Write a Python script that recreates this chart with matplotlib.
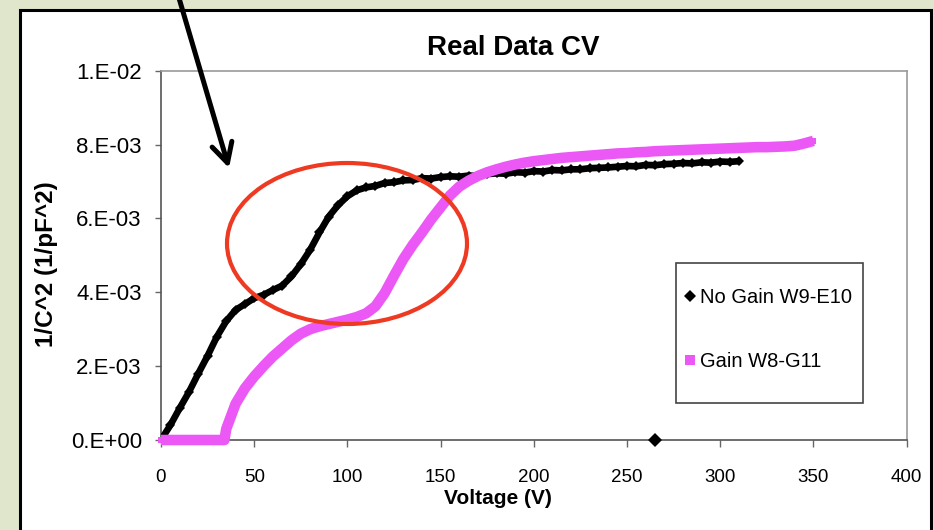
import matplotlib
matplotlib.use("Agg")
import matplotlib.pyplot as plt
from matplotlib.patches import Rectangle, Ellipse, FancyArrowPatch
from matplotlib.lines import Line2D

plt.rcParams['font.family'] = ['Liberation Sans', 'DejaVu Sans']

# ---------------- data ----------------
title = "Real Data CV"
x_label = "Voltage (V)"
y_label = "1/C^2 (1/pF^2)"
series_names = ["No Gain W9-E10", "Gain W8-G11"]

x_ticks = [0, 50, 100, 150, 200, 250, 300, 350, 400]
y_ticks = [0.0, 0.002, 0.004, 0.006, 0.008, 0.010]
y_tick_labels = ["0.E+00", "2.E-03", "4.E-03", "6.E-03", "8.E-03", "1.E-02"]

v_nogain = [0, 5, 10, 15, 20, 25, 30, 35, 40, 45, 50, 55, 60, 65, 70, 75, 80,
            85, 90, 95, 100, 105, 110, 115, 120, 125, 130, 135, 140, 145, 150,
            155, 160, 165, 170, 175, 180, 185, 190, 195, 200, 205, 210, 215,
            220, 225, 230, 235, 240, 245, 250, 255, 260, 265, 270, 275, 280,
            285, 290, 295, 300, 305, 310]
c_nogain_e3 = [0.00, 0.40, 0.86, 1.30, 1.80, 2.28, 2.80, 3.22, 3.52, 3.68,
               3.84, 3.93, 4.06, 4.18, 4.43, 4.76, 5.15, 5.62, 6.05, 6.36,
               6.60, 6.76, 6.84, 6.88, 6.96, 6.98, 7.03, 7.04, 7.09, 7.08,
               7.12, 7.14, 7.13, 7.16, 7.15, 7.20, 7.22, 7.21, 7.25, 7.24,
               7.28, 7.27, 7.31, 7.30, 7.33, 7.33, 7.36, 7.37, 7.38, 7.40,
               7.42, 7.41, 7.45, 7.44, 7.47, 7.48, 7.50, 7.49, 7.52, 7.51,
               7.54, 7.53, 7.55]
# stray point of the No Gain series
v_nogain_stray = [265]
c_nogain_stray_e3 = [0.0]

v_gain = [0, 5, 10, 15, 20, 25, 30, 34, 35, 40, 45, 50, 55, 60, 65, 70, 75,
          80, 85, 90, 95, 100, 105, 110, 115, 120, 125, 130, 135, 140, 145,
          150, 155, 160, 165, 170, 175, 180, 185, 190, 195, 200, 205, 210,
          215, 220, 225, 230, 235, 240, 245, 250, 255, 260, 265, 270, 275,
          280, 285, 290, 295, 300, 305, 310, 315, 320, 325, 330, 335, 340,
          345, 350]
c_gain_e3 = [0.00, 0.00, 0.00, 0.00, 0.00, 0.00, 0.00, 0.00, 0.30, 0.98,
             1.40, 1.72, 2.00, 2.26, 2.48, 2.70, 2.88, 3.00, 3.08, 3.14,
             3.20, 3.26, 3.33, 3.43, 3.62, 3.98, 4.45, 4.90, 5.28, 5.62,
             5.98, 6.30, 6.62, 6.86, 7.02, 7.15, 7.25, 7.33, 7.40, 7.46,
             7.51, 7.55, 7.58, 7.61, 7.64, 7.66, 7.68, 7.70, 7.72, 7.74,
             7.76, 7.77, 7.79, 7.80, 7.82, 7.83, 7.84, 7.85, 7.86, 7.87,
             7.88, 7.89, 7.90, 7.91, 7.92, 7.93, 7.93, 7.94, 7.95, 7.97,
             8.03, 8.10]

c_nogain = [c * 1e-3 for c in c_nogain_e3]
c_nogain_stray = [c * 1e-3 for c in c_nogain_stray_e3]
c_gain = [c * 1e-3 for c in c_gain_e3]

# ---------------- figure ----------------
W, H = 934, 530
fig = plt.figure(figsize=(W / 100, H / 100), dpi=100)
fig.patch.set_facecolor('#dfe6cb')

# white slide panel with black border
fig.patches.append(Rectangle((20 / W, -0.05), (931 - 20) / W, 1.05 - 9.5 / H,
                             transform=fig.transFigure, facecolor='white',
                             edgecolor='black', linewidth=2.2, zorder=-5))

ax = fig.add_axes([161 / W, (H - 440) / H, (906.7 - 161) / W, (440 - 70.7) / H])
ax.set_zorder(1)
ax.set_facecolor('white')

magenta = '#ec58f5'

ax.plot(v_nogain, c_nogain, color='black', lw=4.8, marker='D', ms=5.0,
        mew=0, zorder=3, solid_capstyle='round', solid_joinstyle='round')
ax.plot(v_nogain_stray, c_nogain_stray, ls='none', color='black', marker='D',
        ms=7, mew=0, zorder=3, clip_on=False)
ax.plot(v_gain, c_gain, color=magenta, lw=7.6, marker='s', ms=5.0, mew=0,
        zorder=4, solid_capstyle='butt', solid_joinstyle='round',
        clip_on=False)

ax.set_xlim(0, 400)
ax.set_ylim(0, 0.01)
ax.set_xticks(x_ticks)
ax.set_xticklabels([str(t) for t in x_ticks], fontsize=13.5)
ax.set_yticks(y_ticks)
ax.set_yticklabels(y_tick_labels, fontsize=16)
ax.tick_params(axis='y', length=4.3, width=1.0, color='#666666', pad=9.5)
ax.tick_params(axis='x', length=5, width=1.0, color='#666666', pad=16)

for s in ['left', 'bottom']:
    ax.spines[s].set_color('#555555')
    ax.spines[s].set_linewidth(1.2)
for s in ['top', 'right']:
    ax.spines[s].set_color('#999999')
    ax.spines[s].set_linewidth(1.2)

ax.set_title(title, fontsize=20, fontweight='bold', x=0.472,
             y=(440 - 55) / (440 - 70.7), pad=0)
ax.set_xlabel(x_label, fontsize=15, fontweight='bold')
ax.xaxis.set_label_coords((498 - 161) / 745.7, (440 - 489) / 369.3)
ax.set_ylabel(y_label, fontsize=17.5, fontweight='bold')
ax.yaxis.set_label_coords((58 - 161) / 745.7, (440 - 264) / 369.3)

# legend frame and entries
ax.add_patch(Rectangle(((676 - 161) / 745.7, (440 - 403) / 369.3),
                       (863 - 676) / 745.7, (403 - 263) / 369.3,
                       transform=ax.transAxes, facecolor='white',
                       edgecolor='#444444', linewidth=1.2, zorder=5))
handles = [Line2D([], [], ls='none', marker='D', color='black', ms=6.5, mew=0),
           Line2D([], [], ls='none', marker='s', color=magenta, ms=6.5, mew=0)]
leg = ax.legend(handles, series_names, loc='upper left',
                bbox_to_anchor=((685 - 161) / 745.7, (440 - 288) / 369.3),
                frameon=False, borderpad=0, borderaxespad=0,
                handlelength=0.5, handletextpad=0.25, labelspacing=2.25,
                fontsize=14.5)
leg.set_zorder(6)

# annotation: arrow and red ellipse
fig.add_artist(FancyArrowPatch((178 / W, 1.01), (229 / W, 1 - 168 / H),
                               transform=fig.transFigure,
                               arrowstyle='->,head_length=14,head_width=7.4',
                               mutation_scale=1, lw=3.6, color='black',
                               shrinkA=0, shrinkB=0, zorder=10))
fig.add_artist(Ellipse((347 / W, 1 - 243.5 / H), 240 / W, 161 / H,
                       transform=fig.transFigure, facecolor='none',
                       edgecolor='#ee3a22', linewidth=3.0, zorder=10))

fig.savefig('out.png', dpi=100, facecolor=fig.get_facecolor())
